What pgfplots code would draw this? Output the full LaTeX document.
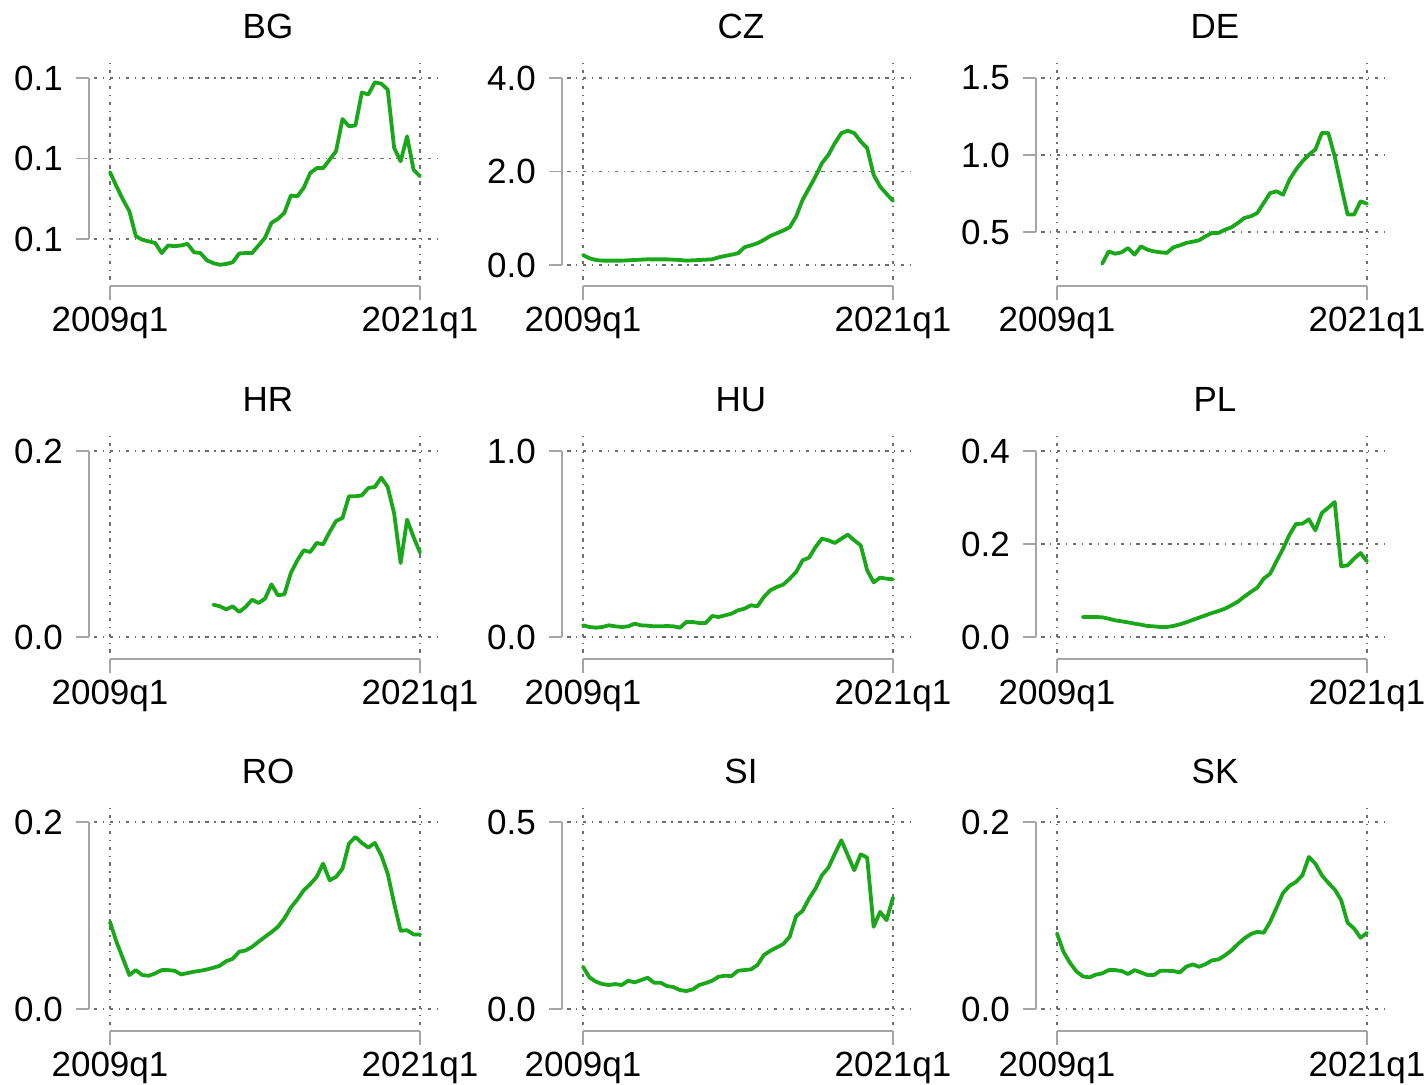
\documentclass[border=0pt]{standalone}
\usepackage{fontspec}
\setmainfont{Liberation Sans}
\usepackage{pgfplots}
\pgfplotsset{compat=1.18}
\definecolor{stgreen}{RGB}{26,168,26}
\definecolor{axgray}{RGB}{165,165,165}
\definecolor{gridgray}{RGB}{110,110,110}
\tikzset{axline/.style={draw=axgray,line width=1.6pt}}
\newcommand\ytk[1]{\draw[axline,xshift=-5pt] (axis cs:-2.477,#1) -- ++(-13pt,0pt);}
\newcommand\yax[2]{\draw[axline,xshift=-5pt] (axis cs:-2.477,#1) -- (axis cs:-2.477,#2);}
\newcommand\xax[1]{\draw[axline,yshift=-6pt] (axis cs:0,#1) -- (axis cs:48,#1);
  \draw[axline,yshift=-6pt] (axis cs:0,#1) -- ++(0pt,-14pt);
  \draw[axline,yshift=-6pt] (axis cs:48,#1) -- ++(0pt,-14pt);}
\pgfplotsset{stata/.style={
  width=348pt, height=220pt, scale only axis, clip=false,
  xmin=-2.477, xmax=51.406,
  axis line style={draw=none},
  major tick length=0pt,
  xtick={0,48}, xticklabels={2009q1,2021q1},
  xmajorgrids, ymajorgrids,
  grid style={draw=gridgray, line width=1.6pt, dash pattern=on 3.5pt off 5.5pt on 1.4pt off 5.5pt},
  scaled y ticks=false,
  /pgf/number format/assume math mode=true,
  yticklabel={\pgfmathprintnumber[fixed,fixed zerofill,precision=1]{\tick}},
  ticklabel style={font=\fontsize{35}{42}\selectfont},
  yticklabel style={anchor=east, inner sep=0pt, xshift=-31pt},
  xticklabel style={anchor=north, inner sep=0pt, yshift=-27pt},
  title style={at={(0.5,1)}, anchor=base, inner sep=0pt, yshift=15pt, font=\fontsize{35}{42}\selectfont},
}}
\tikzset{gline/.style={draw=stgreen, line width=3.8pt, line join=round, line cap=round, mark=none}}
\begin{document}
\begin{tikzpicture}
\useasboundingbox (0,0) rectangle (1428pt,1085pt);
% ---------------- BG
\begin{axis}[stata, at={(94pt,805pt)}, anchor=south west, title={BG},
  ymin=0.06981, ymax=0.12447, ytick={0.08,0.10,0.12}]
\addplot[gline] coordinates {(0,0.0966)(1,0.0931)(2,0.0898)(3,0.0869)(4,0.0807)(5,0.0798)(6,0.0794)(7,0.0790)(8,0.0765)(9,0.0784)(10,0.0782)(11,0.0784)(12,0.0788)(13,0.0767)(14,0.0765)(15,0.0747)(16,0.0740)(17,0.0736)(18,0.0738)(19,0.0742)(20,0.0764)(21,0.0765)(22,0.0765)(23,0.0784)(24,0.0803)(25,0.0840)(26,0.0850)(27,0.0865)(28,0.0908)(29,0.0906)(30,0.0927)(31,0.0964)(32,0.0976)(33,0.0976)(34,0.0997)(35,0.1018)(36,0.1098)(37,0.1080)(38,0.1082)(39,0.1164)(40,0.1159)(41,0.1189)(42,0.1186)(43,0.1171)(44,0.1026)(45,0.0993)(46,0.1055)(47,0.0972)(48,0.0956)};
\yax{0.08}{0.12}\ytk{0.08}\ytk{0.10}\ytk{0.12}\xax{0.06981}
\end{axis}
% ---------------- CZ
\begin{axis}[stata, at={(567pt,805pt)}, anchor=south west, title={CZ},
  ymin=-0.3209, ymax=4.385, ytick={0,2,4}]
\addplot[gline] coordinates {(0,0.214)(1,0.143)(2,0.107)(3,0.093)(4,0.093)(5,0.093)(6,0.093)(7,0.100)(8,0.107)(9,0.114)(10,0.121)(11,0.120)(12,0.120)(13,0.120)(14,0.114)(15,0.107)(16,0.093)(17,0.100)(18,0.107)(19,0.114)(20,0.121)(21,0.164)(22,0.193)(23,0.220)(24,0.250)(25,0.379)(26,0.420)(27,0.464)(28,0.536)(29,0.620)(30,0.679)(31,0.736)(32,0.807)(33,1.036)(34,1.393)(35,1.643)(36,1.893)(37,2.179)(38,2.357)(39,2.607)(40,2.821)(41,2.871)(42,2.821)(43,2.643)(44,2.500)(45,1.929)(46,1.679)(47,1.521)(48,1.371)};
\yax{0}{4}\ytk{0}\ytk{2}\ytk{4}\xax{-0.3209}
\end{axis}
% ---------------- DE
\begin{axis}[stata, at={(1041pt,805pt)}, anchor=south west, title={DE},
  ymin=0.1883, ymax=1.6169, ytick={0.5,1.0,1.5}]
\addplot[gline] coordinates {(7,0.294)(8,0.374)(9,0.359)(10,0.368)(11,0.396)(12,0.353)(13,0.407)(14,0.385)(15,0.374)(16,0.368)(17,0.364)(18,0.400)(19,0.413)(20,0.429)(21,0.437)(22,0.446)(23,0.472)(24,0.494)(25,0.494)(26,0.515)(27,0.530)(28,0.558)(29,0.591)(30,0.602)(31,0.623)(32,0.688)(33,0.753)(34,0.764)(35,0.742)(36,0.840)(37,0.905)(38,0.959)(39,1.002)(40,1.035)(41,1.143)(42,1.143)(43,0.991)(44,0.797)(45,0.613)(46,0.613)(47,0.699)(48,0.684)};
\yax{0.5}{1.5}\ytk{0.5}\ytk{1.0}\ytk{1.5}\xax{0.1883}
\end{axis}
% ---------------- HR
\begin{axis}[stata, at={(94pt,432pt)}, anchor=south west, title={HR},
  ymin=-0.0172, ymax=0.21935, ytick={0,0.2}]
\addplot[gline] coordinates {(16,0.0348)(17,0.0330)(18,0.0297)(19,0.0330)(20,0.0269)(21,0.0323)(22,0.0401)(23,0.0366)(24,0.0412)(25,0.0566)(26,0.0448)(27,0.0459)(28,0.0688)(29,0.0824)(30,0.0932)(31,0.0914)(32,0.1011)(33,0.0996)(34,0.1129)(35,0.1247)(36,0.1280)(37,0.1513)(38,0.1513)(39,0.1523)(40,0.1602)(41,0.1613)(42,0.1713)(43,0.1613)(44,0.1326)(45,0.0796)(46,0.1262)(47,0.1075)(48,0.0907)};
\yax{0}{0.2}\ytk{0}\ytk{0.2}\xax{-0.0172}
\end{axis}
% ---------------- HU
\begin{axis}[stata, at={(567pt,432pt)}, anchor=south west, title={HU},
  ymin=-0.086, ymax=1.0968, ytick={0,1}]
\addplot[gline] coordinates {(0,0.0627)(1,0.0538)(2,0.0502)(3,0.0538)(4,0.0627)(5,0.0573)(6,0.0538)(7,0.0573)(8,0.0717)(9,0.0627)(10,0.0609)(11,0.0573)(12,0.0573)(13,0.0591)(14,0.0573)(15,0.0502)(16,0.0806)(17,0.0806)(18,0.0753)(19,0.0753)(20,0.1129)(21,0.1075)(22,0.1165)(23,0.1254)(24,0.1434)(25,0.1523)(26,0.1703)(27,0.1649)(28,0.2151)(29,0.2509)(30,0.2688)(31,0.2814)(32,0.3136)(33,0.3495)(34,0.4122)(35,0.4265)(36,0.4839)(37,0.5287)(38,0.5197)(39,0.5054)(40,0.5287)(41,0.5502)(42,0.5197)(43,0.4928)(44,0.3584)(45,0.2939)(46,0.3190)(47,0.3136)(48,0.3100)};
\yax{0}{1}\ytk{0}\ytk{1}\xax{-0.086}
\end{axis}
% ---------------- PL
\begin{axis}[stata, at={(1041pt,432pt)}, anchor=south west, title={PL},
  ymin=-0.0344, ymax=0.4387, ytick={0,0.2,0.4}]
\addplot[gline] coordinates {(4,0.0430)(5,0.0430)(6,0.0430)(7,0.0423)(8,0.0394)(9,0.0358)(10,0.0337)(11,0.0315)(12,0.0287)(13,0.0265)(14,0.0237)(15,0.0229)(16,0.0215)(17,0.0215)(18,0.0237)(19,0.0272)(20,0.0315)(21,0.0366)(22,0.0416)(23,0.0466)(24,0.0516)(25,0.0559)(26,0.0609)(27,0.0681)(28,0.0760)(29,0.0867)(30,0.0968)(31,0.1061)(32,0.1254)(33,0.1362)(34,0.1634)(35,0.1900)(36,0.2200)(37,0.2430)(38,0.2437)(39,0.2530)(40,0.2294)(41,0.2667)(42,0.2781)(43,0.2903)(44,0.1520)(45,0.1541)(46,0.1685)(47,0.1806)(48,0.1627)};
\yax{0}{0.4}\ytk{0}\ytk{0.2}\ytk{0.4}\xax{-0.0344}
\end{axis}
% ---------------- RO
\begin{axis}[stata, at={(94pt,60pt)}, anchor=south west, title={RO},
  ymin=-0.0171, ymax=0.21818, ytick={0,0.2}]
\addplot[gline] coordinates {(0,0.0932)(1,0.0719)(2,0.0541)(3,0.0363)(4,0.0416)(5,0.0363)(6,0.0356)(7,0.0381)(8,0.0416)(9,0.0416)(10,0.0409)(11,0.0370)(12,0.0384)(13,0.0399)(14,0.0409)(15,0.0423)(16,0.0441)(17,0.0463)(18,0.0512)(19,0.0537)(20,0.0612)(21,0.0626)(22,0.0665)(23,0.0719)(24,0.0772)(25,0.0822)(26,0.0879)(27,0.0968)(28,0.1085)(29,0.1171)(30,0.1270)(31,0.1335)(32,0.1413)(33,0.1555)(34,0.1377)(35,0.1413)(36,0.1502)(37,0.1769)(38,0.1840)(39,0.1776)(40,0.1726)(41,0.1776)(42,0.1644)(43,0.1448)(44,0.1128)(45,0.0836)(46,0.0843)(47,0.0797)(48,0.0797)};
\yax{0}{0.2}\ytk{0}\ytk{0.2}\xax{-0.0171}
\end{axis}
% ---------------- SI
\begin{axis}[stata, at={(567pt,60pt)}, anchor=south west, title={SI},
  ymin=-0.0428, ymax=0.5455, ytick={0,0.5}]
\addplot[gline] coordinates {(0,0.1130)(1,0.0845)(2,0.0730)(3,0.0667)(4,0.0641)(5,0.0667)(6,0.0641)(7,0.0756)(8,0.0712)(9,0.0774)(10,0.0836)(11,0.0703)(12,0.0703)(13,0.0614)(14,0.0587)(15,0.0507)(16,0.0480)(17,0.0525)(18,0.0641)(19,0.0694)(20,0.0756)(21,0.0863)(22,0.0890)(23,0.0881)(24,0.1023)(25,0.1041)(26,0.1059)(27,0.1174)(28,0.1441)(29,0.1557)(30,0.1646)(31,0.1735)(32,0.1931)(33,0.2482)(34,0.2625)(35,0.2954)(36,0.3221)(37,0.3577)(38,0.3781)(39,0.4155)(40,0.4511)(41,0.4110)(42,0.3710)(43,0.4137)(44,0.4048)(45,0.2198)(46,0.2598)(47,0.2375)(48,0.2980)};
\yax{0}{0.5}\ytk{0}\ytk{0.5}\xax{-0.0428}
\end{axis}
% ---------------- SK
\begin{axis}[stata, at={(1041pt,60pt)}, anchor=south west, title={SK},
  ymin=-0.0171, ymax=0.21818, ytick={0,0.2}]
\addplot[gline] coordinates {(0,0.0808)(1,0.0612)(2,0.0495)(3,0.0402)(4,0.0349)(5,0.0338)(6,0.0367)(7,0.0381)(8,0.0416)(9,0.0416)(10,0.0406)(11,0.0374)(12,0.0416)(13,0.0391)(14,0.0363)(15,0.0363)(16,0.0409)(17,0.0409)(18,0.0406)(19,0.0391)(20,0.0452)(21,0.0477)(22,0.0452)(23,0.0480)(24,0.0520)(25,0.0530)(26,0.0573)(27,0.0626)(28,0.0694)(29,0.0754)(30,0.0801)(31,0.0826)(32,0.0815)(33,0.0932)(34,0.1085)(35,0.1242)(36,0.1317)(37,0.1359)(38,0.1431)(39,0.1626)(40,0.1555)(41,0.1431)(42,0.1349)(43,0.1278)(44,0.1164)(45,0.0922)(46,0.0861)(47,0.0762)(48,0.0815)};
\yax{0}{0.2}\ytk{0}\ytk{0.2}\xax{-0.0171}
\end{axis}
\end{tikzpicture}
\end{document}
